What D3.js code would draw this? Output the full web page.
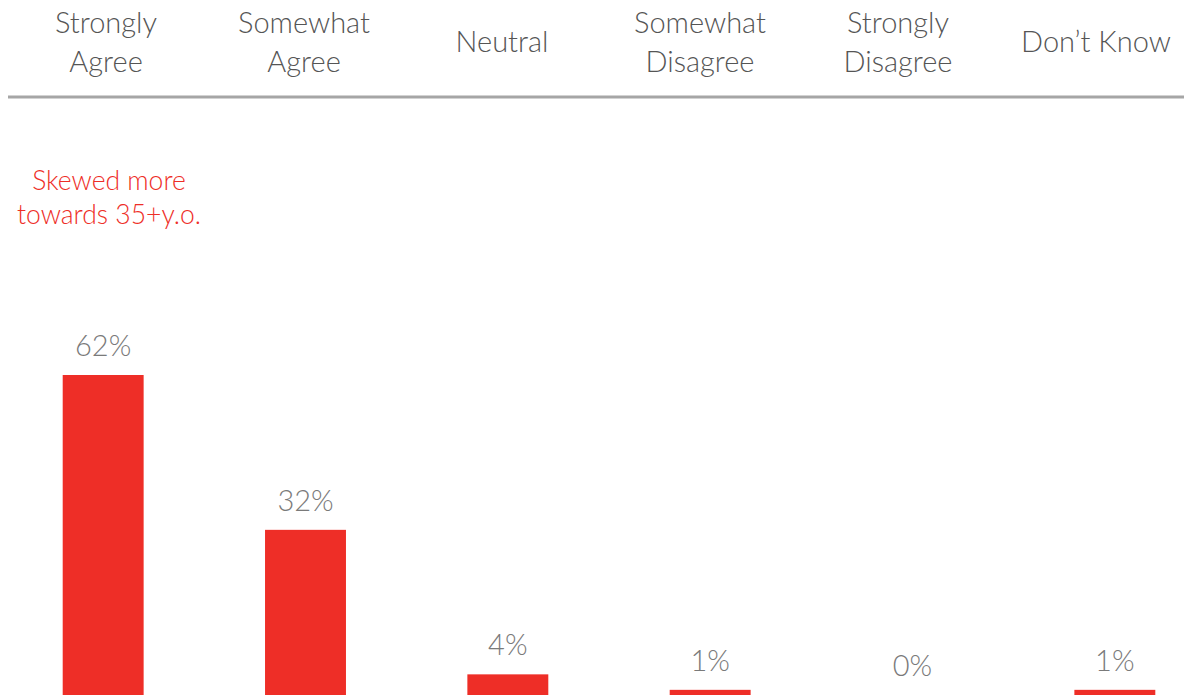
<!DOCTYPE html>
<html>
<head>
<meta charset="utf-8">
<script src="https://cdn.jsdelivr.net/npm/d3@7/dist/d3.min.js"></script>
<style>
  html, body { margin: 0; padding: 0; background: #fff; }
  svg { display: block; font-family: Lato, "Open Sans", sans-serif; font-weight: 300; }
</style>
</head>
<body>
<div id="chart"></div>
<script>
// answer categories (header lines) and share of respondents
const categories = ["Strongly Agree", "Somewhat Agree", "Neutral", "Somewhat Disagree", "Strongly Disagree", "Don’t Know"];
const headerLines = [["Strongly", "Agree"], ["Somewhat", "Agree"], ["Neutral"], ["Somewhat", "Disagree"], ["Strongly", "Disagree"], ["Don’t Know"]];
const values = [62, 32, 4, 1, 0, 1];
const noteLines = ["Skewed more", "towards 35+y.o."];

const width = 1184, height = 695;
const red = "#ee2e27";

const svg = d3.select("#chart").append("svg")
    .attr("width", width)
    .attr("height", height)
    .attr("viewBox", [0, 0, width, height]);

// header columns are spaced slightly tighter than the bars
const hx = d3.scaleBand().domain(categories).range([7, 1195]);
const x = d3.scaleBand().domain(categories).range([2, 1216])
    .paddingInner(0.6).paddingOuter(0.3);
const y = d3.scaleLinear().domain([0, 62]).range([height, 375]);

// header labels
const head = svg.append("g")
    .attr("fill", "#555")
    .attr("font-size", 29)
    .attr("text-anchor", "middle");

head.selectAll("text")
    .data(categories)
    .join("text")
    .attr("x", d => hx(d) + hx.bandwidth() / 2)
    .attr("y", (d, i) => headerLines[i].length === 1 ? 52 : 33)
    .each(function(d, i) {
        d3.select(this).selectAll("tspan")
            .data(headerLines[i])
            .join("tspan")
            .attr("x", hx(d) + hx.bandwidth() / 2)
            .attr("dy", (t, j) => j === 0 ? 0 : 39)
            .text(t => t);
    });

// separator under the header
svg.append("line")
    .attr("x1", 8).attr("x2", width)
    .attr("y1", 97).attr("y2", 97)
    .attr("stroke", "#a6a6a6")
    .attr("stroke-width", 3);

// bars
svg.append("g")
    .attr("fill", red)
    .selectAll("rect")
    .data(values)
    .join("rect")
    .attr("x", (d, i) => x(categories[i]))
    .attr("y", d => y(d))
    .attr("width", x.bandwidth())
    .attr("height", d => y(0) - y(d));

// value labels
svg.append("g")
    .attr("fill", "#7a7a7a")
    .attr("font-size", 29)
    .attr("text-anchor", "middle")
    .selectAll("text")
    .data(values)
    .join("text")
    .attr("x", (d, i) => x(categories[i]) + x.bandwidth() / 2)
    .attr("y", d => y(d) - 19)
    .text(d => d + "%");

// annotation above first bar
svg.append("text")
    .attr("fill", red)
    .attr("font-size", 26.5)
    .attr("text-anchor", "middle")
    .selectAll("tspan")
    .data(noteLines)
    .join("tspan")
    .attr("x", 109)
    .attr("y", (d, i) => 190 + i * 34)
    .text(d => d);
</script>
</body>
</html>
